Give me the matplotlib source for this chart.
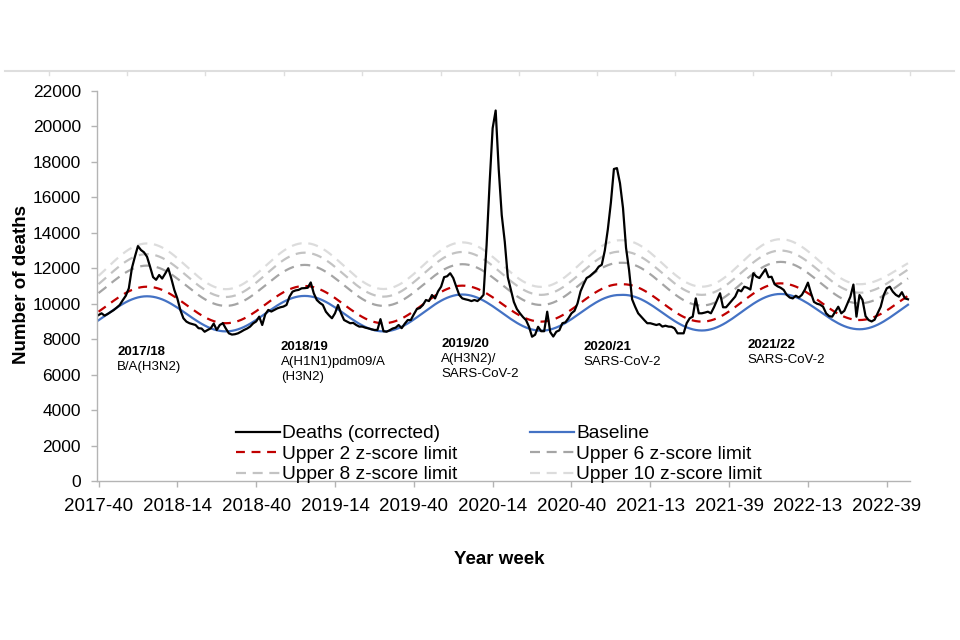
import matplotlib
matplotlib.use("Agg")
import matplotlib.pyplot as plt
from matplotlib.lines import Line2D

plt.rcParams['font.family'] = ['Liberation Sans', 'DejaVu Sans']

# ---------------- data ----------------
deaths = [
    9360, 9460, 9330, 9420, 9530, 9640, 9780, 9930, 10200, 10450,
    10870, 12000, 12650, 13250, 13030, 12900, 12650, 12090, 11500, 11350,
    11620, 11420, 11700, 12000, 11430, 10780, 10300, 9640, 9180, 8990,
    8900, 8850, 8800, 8620, 8600, 8420, 8520, 8610, 8880, 8520,
    8800, 8900, 8600, 8330, 8260, 8280, 8330, 8420, 8520, 8600,
    8710, 8890, 9000, 9270, 8800, 9400, 9650, 9560, 9650, 9740,
    9800, 9840, 9930, 10400, 10680, 10750, 10780, 10870, 10880, 10900,
    11200, 10590, 10210, 10050, 9930, 9550, 9350, 9180, 9460, 9930,
    9460, 9080, 8990, 8900, 8920, 8800, 8710, 8710, 8650, 8610,
    8560, 8520, 8520, 9130, 8450, 8420, 8500, 8600, 8650, 8800,
    8620, 8870, 9080, 9080, 9400, 9700, 9760, 9930, 10210, 10150,
    10490, 10300, 10700, 10960, 11500, 11550, 11720, 11450, 10960, 10490,
    10300, 10250, 10210, 10150, 10210, 10150, 10300, 10500, 13300, 16800,
    19900, 20900, 17600, 15000, 13500, 11500, 10800, 10100, 9700, 9460,
    9250, 9080, 8700, 8140, 8250, 8700, 8450, 8450, 9550, 8400,
    8150, 8420, 8500, 8900, 8950, 9180, 9460, 9600, 10020, 10700,
    11100, 11450, 11550, 11700, 11850, 12090, 12200, 13000, 14200, 15700,
    17600, 17650, 16800, 15400, 13150, 11900, 10250, 9830, 9460, 9270,
    9080, 8900, 8900, 8850, 8800, 8850, 8710, 8760, 8710, 8700,
    8610, 8330, 8330, 8330, 8900, 9180, 9270, 10300, 9460, 9460,
    9500, 9550, 9460, 9800, 10200, 10590, 9800, 9800, 10000, 10200,
    10400, 10780, 10700, 10960, 10900, 10800, 11720, 11530, 11450, 11700,
    11950, 11500, 11520, 11100, 10980, 10900, 10780, 10500, 10350, 10300,
    10450, 10350, 10500, 10800, 11190, 10600, 10100, 10000, 9950, 9830,
    9460, 9300, 9270, 9550, 9830, 9460, 9600, 10000, 10400, 11080,
    9270, 10490, 10210, 9300, 9080, 9000, 9100, 9460, 9830, 10490,
    10870, 10960, 10680, 10500, 10400, 10650, 10300, 10250,
]

baseline = [
    9065, 9181, 9299, 9420, 9541, 9659, 9775, 9885, 9988, 10083,
    10169, 10243, 10305, 10355, 10391, 10413, 10420, 10413, 10391, 10356,
    10306, 10245, 10172, 10086, 9992, 9890, 9781, 9667, 9550, 9430,
    9310, 9193, 9079, 8970, 8868, 8774, 8688, 8615, 8554, 8504,
    8469, 8447, 8440, 8447, 8469, 8505, 8555, 8617, 8691, 8777,
    8872, 8975, 9085, 9201, 9319, 9440, 9561, 9679, 9795, 9905,
    10008, 10103, 10189, 10263, 10325, 10375, 10411, 10433, 10440, 10433,
    10411, 10375, 10325, 10263, 10189, 10103, 10008, 9905, 9795, 9679,
    9561, 9440, 9319, 9201, 9085, 8975, 8872, 8777, 8691, 8617,
    8555, 8505, 8469, 8447, 8440, 8447, 8470, 8508, 8560, 8624,
    8701, 8790, 8889, 8996, 9111, 9231, 9354, 9480, 9606, 9729,
    9849, 9964, 10071, 10170, 10259, 10336, 10400, 10452, 10490, 10513,
    10520, 10513, 10490, 10454, 10403, 10339, 10264, 10176, 10079, 9974,
    9862, 9744, 9623, 9500, 9377, 9256, 9138, 9026, 8921, 8824,
    8736, 8661, 8597, 8546, 8510, 8487, 8480, 8487, 8509, 8545,
    8596, 8658, 8733, 8820, 8915, 9019, 9130, 9247, 9366, 9488,
    9609, 9728, 9845, 9956, 10060, 10155, 10242, 10317, 10379, 10430,
    10466, 10488, 10495, 10500, 10493, 10471, 10435, 10384, 10322, 10248,
    10161, 10066, 9962, 9852, 9735, 9617, 9495, 9373, 9255, 9138,
    9028, 8924, 8829, 8742, 8668, 8606, 8555, 8519, 8497, 8490,
    8497, 8520, 8557, 8608, 8672, 8749, 8837, 8935, 9041, 9154,
    9274, 9395, 9520, 9645, 9766, 9886, 9999, 10105, 10203, 10291,
    10368, 10432, 10483, 10520, 10543, 10550, 10543, 10521, 10485, 10436,
    10374, 10300, 10215, 10120, 10018, 9908, 9793, 9675, 9555, 9435,
    9317, 9202, 9092, 8990, 8895, 8810, 8736, 8674, 8625, 8589,
    8567, 8560, 8567, 8590, 8626, 8677, 8741, 8816, 8904, 9001,
    9106, 9218, 9336, 9457, 9580, 9703, 9824, 9942,
]

upper2 = [
    9551, 9671, 9794, 9920, 10046, 10169, 10289, 10404, 10511, 10610, 10699, 10776, 10840, 10892, 10930, 10953, 10960,
    10953, 10930, 10893, 10842, 10778, 10701, 10613, 10515, 10409, 10296, 10176, 10055, 9930, 9805, 9684, 9564, 9451, 9345, 9247, 9159, 9082, 9018, 8967, 8930, 8907, 8900,
    8908, 8930, 8968, 9021, 9086, 9164, 9254, 9354, 9462, 9577, 9699, 9823, 9950, 10077, 10201, 10323, 10438, 10546, 10646, 10736, 10814, 10879, 10932, 10970, 10993, 11000,
    10992, 10970, 10932, 10879, 10814, 10736, 10646, 10546, 10438, 10323, 10201, 10077, 9950, 9823, 9699, 9577, 9462, 9354, 9254, 9164, 9086, 9021, 8968, 8930, 8907, 8900,
    8908, 8931, 8969, 9022, 9088, 9166, 9257, 9358, 9467, 9584, 9707, 9832, 9960, 10088, 10213, 10336, 10453, 10562, 10663, 10754, 10832, 10898, 10951, 10989, 11013, 11020,
    11013, 10991, 10954, 10903, 10840, 10765, 10678, 10582, 10477, 10365, 10248, 10128, 10005, 9882, 9762, 9645, 9533, 9428, 9332, 9245, 9170, 9107, 9056, 9019, 8997, 8990,
    8998, 9021, 9059, 9111, 9177, 9255, 9346, 9446, 9554, 9670, 9793, 9917, 10045, 10173, 10297, 10420, 10536, 10644, 10744, 10835, 10913, 10979, 11031, 11069, 11093, 11100, 11100,
    11092, 11069, 11031, 10979, 10913, 10835, 10744, 10644, 10536, 10420, 10297, 10173, 10045, 9917, 9793, 9670, 9554, 9446, 9346, 9255, 9177, 9111, 9059, 9021, 8998, 8990,
    8998, 9021, 9060, 9114, 9181, 9261, 9354, 9457, 9568, 9687, 9812, 9939, 10070, 10201, 10328, 10453, 10572, 10683, 10786, 10879, 10959, 11026, 11080, 11119, 11142, 11150,
    11143, 11120, 11083, 11031, 10967, 10890, 10801, 10703, 10596, 10482, 10362, 10240, 10115, 9990, 9868, 9748, 9634, 9527, 9429, 9340, 9263, 9199, 9147, 9110, 9087, 9080,
    9087, 9109, 9146, 9196, 9259, 9334, 9420, 9516, 9620, 9731, 9849, 9968, 10090, 10212, 10331, 10449,
]

upper6 = [
    10599, 10731, 10866, 11005, 11144, 11279, 11411, 11537, 11655, 11764, 11863, 11947, 12018, 12076, 12117, 12142, 12150,
    12142, 12117, 12076, 12019, 11949, 11865, 11768, 11660, 11543, 11418, 11286, 11152, 11015, 10878, 10744, 10612, 10487, 10370, 10262, 10165, 10081, 10011, 9954, 9913, 9888, 9880,
    9888, 9913, 9955, 10013, 10084, 10170, 10269, 10379, 10498, 10625, 10759, 10895, 11035, 11175, 11311, 11445, 11572, 11691, 11801, 11900, 11986, 12057, 12115, 12157, 12182, 12190,
    12182, 12157, 12115, 12057, 11986, 11900, 11801, 11691, 11572, 11445, 11311, 11175, 11035, 10895, 10759, 10625, 10498, 10379, 10269, 10170, 10084, 10013, 9955, 9913, 9888, 9880,
    9888, 9914, 9956, 10015, 10088, 10175, 10276, 10388, 10509, 10638, 10774, 10913, 11055, 11197, 11336, 11472, 11601, 11722, 11834, 11935, 12022, 12095, 12154, 12196, 12222, 12230,
    12222, 12197, 12155, 12098, 12026, 11941, 11842, 11733, 11615, 11488, 11355, 11219, 11080, 10941, 10805, 10672, 10545, 10427, 10318, 10219, 10134, 10062, 10005, 9963, 9938, 9930,
    9939, 9965, 10007, 10067, 10141, 10229, 10331, 10444, 10567, 10698, 10836, 10976, 11120, 11264, 11404, 11542, 11673, 11796, 11909, 12011, 12099, 12173, 12233, 12275, 12302, 12310, 12310,
    12301, 12275, 12232, 12171, 12097, 12008, 11904, 11789, 11665, 11533, 11393, 11251, 11105, 10959, 10817, 10677, 10545, 10421, 10306, 10202, 10113, 10039, 9978, 9935, 9908, 9900,
    9909, 9936, 9980, 10041, 10118, 10209, 10315, 10431, 10558, 10693, 10836, 10981, 11130, 11279, 11424, 11567, 11702, 11829, 11945, 12051, 12142, 12219, 12280, 12324, 12351, 12360,
    12352, 12326, 12284, 12225, 12153, 12066, 11966, 11855, 11734, 11605, 11470, 11332, 11190, 11048, 10910, 10775, 10646, 10525, 10414, 10314, 10227, 10155, 10096, 10054, 10028, 10020,
    10027, 10050, 10088, 10140, 10204, 10281, 10370, 10469, 10576, 10691, 10811, 10934, 11060, 11186, 11309, 11429,
]

upper8 = [
    11106, 11251, 11399, 11550, 11701, 11849, 11994, 12131, 12260, 12379, 12486, 12579, 12656, 12719, 12764, 12791, 12800,
    12791, 12765, 12721, 12661, 12586, 12496, 12392, 12277, 12153, 12020, 11879, 11736, 11590, 11444, 11301, 11160, 11027, 10903, 10788, 10684, 10594, 10519, 10459, 10415, 10388, 10380,
    10389, 10416, 10461, 10524, 10601, 10694, 10801, 10920, 11049, 11186, 11331, 11479, 11630, 11781, 11929, 12074, 12211, 12340, 12459, 12566, 12659, 12736, 12799, 12844, 12871, 12880,
    12871, 12844, 12799, 12737, 12661, 12569, 12462, 12344, 12217, 12080, 11936, 11790, 11640, 11490, 11344, 11200, 11063, 10936, 10818, 10711, 10619, 10543, 10481, 10436, 10409, 10400,
    10409, 10437, 10482, 10545, 10623, 10716, 10825, 10944, 11074, 11213, 11359, 11508, 11660, 11812, 11961, 12107, 12246, 12376, 12495, 12604, 12697, 12775, 12838, 12883, 12911, 12920,
    12911, 12885, 12841, 12781, 12706, 12616, 12512, 12397, 12273, 12140, 11999, 11856, 11710, 11564, 11421, 11280, 11147, 11023, 10908, 10804, 10714, 10639, 10579, 10535, 10508, 10500,
    10509, 10535, 10579, 10640, 10716, 10806, 10911, 11027, 11153, 11287, 11428, 11572, 11720, 11868, 12012, 12153, 12287, 12413, 12529, 12634, 12724, 12800, 12861, 12905, 12931, 12940, 12940,
    12931, 12905, 12861, 12800, 12724, 12634, 12529, 12413, 12287, 12153, 12012, 11868, 11720, 11572, 11428, 11287, 11153, 11027, 10911, 10806, 10716, 10640, 10579, 10535, 10509, 10500,
    10509, 10536, 10581, 10644, 10721, 10814, 10921, 11040, 11169, 11306, 11451, 11599, 11750, 11901, 12049, 12194, 12331, 12460, 12579, 12686, 12779, 12856, 12919, 12964, 12991, 13000,
    12991, 12965, 12923, 12863, 12789, 12701, 12599, 12486, 12363, 12232, 12094, 11954, 11810, 11666, 11526, 11388, 11257, 11134, 11021, 10919, 10831, 10757, 10697, 10655, 10628, 10620,
    10627, 10648, 10683, 10731, 10791, 10862, 10945, 11037, 11136, 11242, 11354, 11468, 11585, 11702, 11816, 11928,
]

upper10 = [
    11571, 11727, 11887, 12050, 12213, 12373, 12529, 12678, 12817, 12945, 13061, 13161, 13245, 13312, 13361, 13391, 13400,
    13391, 13363, 13316, 13252, 13172, 13076, 12965, 12843, 12710, 12568, 12418, 12266, 12110, 11954, 11802, 11652, 11510, 11377, 11255, 11144, 11048, 10968, 10904, 10857, 10829, 10820,
    10829, 10858, 10905, 10970, 11050, 11146, 11258, 11382, 11516, 11659, 11809, 11963, 12120, 12277, 12431, 12582, 12725, 12858, 12982, 13094, 13190, 13271, 13336, 13382, 13411, 13420,
    13411, 13382, 13336, 13271, 13191, 13095, 12984, 12861, 12727, 12585, 12435, 12282, 12125, 11968, 11816, 11665, 11523, 11389, 11266, 11155, 11059, 10979, 10914, 10868, 10839, 10830,
    10839, 10868, 10915, 10981, 11063, 11160, 11273, 11398, 11534, 11678, 11831, 11986, 12145, 12304, 12459, 12612, 12756, 12892, 13017, 13130, 13227, 13309, 13375, 13422, 13451, 13460,
    13451, 13424, 13378, 13316, 13238, 13145, 13037, 12918, 12789, 12651, 12505, 12357, 12205, 12053, 11905, 11759, 11621, 11492, 11373, 11265, 11172, 11094, 11032, 10986, 10959, 10950,
    10959, 10988, 11035, 11101, 11183, 11280, 11393, 11518, 11654, 11798, 11951, 12106, 12265, 12424, 12579, 12732, 12876, 13012, 13137, 13250, 13347, 13429, 13495, 13542, 13571, 13580, 13580,
    13571, 13542, 13495, 13429, 13348, 13251, 13139, 13014, 12879, 12735, 12583, 12429, 12270, 12111, 11957, 11805, 11661, 11526, 11401, 11289, 11192, 11111, 11045, 10998, 10969, 10960,
    10970, 10999, 11047, 11114, 11197, 11296, 11412, 11539, 11677, 11824, 11980, 12138, 12300, 12462, 12620, 12776, 12923, 13061, 13188, 13304, 13403, 13486, 13553, 13601, 13631, 13640,
    13631, 13603, 13557, 13494, 13415, 13321, 13212, 13091, 12961, 12821, 12674, 12524, 12370, 12216, 12066, 11919, 11779, 11649, 11528, 11419, 11325, 11246, 11183, 11137, 11109, 11100,
    11106, 11125, 11157, 11201, 11255, 11320, 11395, 11478, 11568, 11664, 11766, 11869, 11975, 12081, 12184, 12286,
]

tick_labels = ["2017-40", "2018-14", "2018-40", "2019-14", "2019-40", "2020-14",
               "2020-40", "2021-13", "2021-39", "2022-13", "2022-39"]

season_labels = ["2017/18", "2018/19", "2019/20", "2020/21", "2021/22"]
season_notes = [["B/A(H3N2)"], ["A(H1N1)pdm09/A", "(H3N2)"],
                ["A(H3N2)/", "SARS-CoV-2"], ["SARS-CoV-2"], ["SARS-CoV-2"]]
season_label_week = ["2017-46", "2018-48", "2019-49", "2020-44", "2021-45"]
season_label_y = [7125, 7407, 7548, 7407, 7503]

# year-week category labels for each data point
weeks = []
year, wk = 2017, 40
for _ in range(len(deaths)):
    weeks.append(f"{year}-{wk:02d}")
    wk += 1
    maxwk = 53 if year == 2020 else 52
    if wk > maxwk:
        wk = 1
        year += 1
x = list(range(len(deaths)))

# ---------------- figure ----------------
fig = plt.figure(figsize=(9.6, 6.4), dpi=100)
ax = fig.add_axes([97 / 960, 159 / 640, 812.5 / 960, 390 / 640])

l10, = ax.plot(x, upper10, color='#dcdcdc', lw=1.6, dashes=(4.5, 3))
l8, = ax.plot(x, upper8, color='#c3c3c3', lw=1.6, dashes=(4.5, 3))
l6, = ax.plot(x, upper6, color='#a5a5a5', lw=1.6, dashes=(4.5, 3))
l2, = ax.plot(x, upper2, color='#c00000', lw=1.6, dashes=(4, 3))
lb, = ax.plot(x, baseline, color='#4472c4', lw=1.6)
ld, = ax.plot(x, deaths, color='black', lw=1.6)

ax.set_xlim(-0.5, len(deaths) - 0.5)
ax.set_ylim(0, 22000)
ax.set_yticks(range(0, 22001, 2000))
ax.set_xticks([weeks.index(t) for t in tick_labels])
ax.set_xticklabels(tick_labels)

for s in ['top', 'right']:
    ax.spines[s].set_visible(False)
for s in ['left', 'bottom']:
    ax.spines[s].set_color('#b4b4b4')
    ax.spines[s].set_linewidth(1.0)
ax.tick_params(axis='both', direction='out', length=4.5, width=1.0, color='#b4b4b4')
ax.tick_params(axis='x', labelsize=13.5, pad=8)
ax.tick_params(axis='y', labelsize=12.5, pad=7)

# season annotations
for lab, notes, wkl, yv in zip(season_labels, season_notes, season_label_week, season_label_y):
    xi = weeks.index(wkl) + 0.1
    ax.text(xi, yv, lab, fontsize=9.5, fontweight='bold', va='baseline', ha='left')
    for j, n in enumerate(notes):
        ax.text(xi, yv - (j + 1) * 850, n, fontsize=9.5, va='baseline', ha='left')

fig.text(22 / 960, 1 - 285 / 640, "Number of deaths", rotation=90, fontsize=13.5,
         fontweight='bold', ha='center', va='center')
fig.text(499 / 960, 1 - 559 / 640, "Year week", fontsize=13.5,
         fontweight='bold', ha='center', va='center')

handles = [ld, l2, l8, lb, l6, l10]
labels = ["Deaths (corrected)", "Upper 2 z-score limit", "Upper 8 z-score limit",
          "Baseline", "Upper 6 z-score limit", "Upper 10 z-score limit"]
fig.legend(handles, labels, loc='upper left', bbox_to_anchor=(236 / 960, 1 - 425 / 640),
           bbox_transform=fig.transFigure, ncol=2, frameon=False, fontsize=13.8,
           borderpad=0, borderaxespad=0, handlelength=2.3, handletextpad=0.1,
           columnspacing=3.8, labelspacing=0.16)

# faint border line of the cropped panel above
fig.add_artist(Line2D([5 / 960, 954 / 960], [1 - 71 / 640] * 2, color='#dedede', lw=1.5))
for px in [49, 127, 205, 284, 362, 441, 519, 597, 675, 753, 831, 910]:
    fig.add_artist(Line2D([px / 960] * 2, [1 - 71 / 640, 1 - 75 / 640], color='#dedede', lw=1.0))

fig.savefig("out.png", dpi=100)
